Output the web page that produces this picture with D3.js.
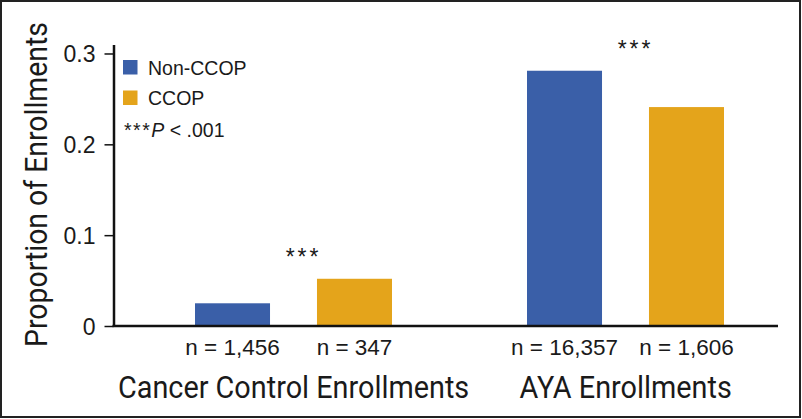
<!DOCTYPE html>
<html>
<head>
<meta charset="utf-8">
<script src="https://cdn.jsdelivr.net/npm/d3@7"></script>
<style>
  html, body { margin: 0; padding: 0; background: #fff; }
  svg { display: block; }
  text { fill: #1a1a1a; }
</style>
</head>
<body>
<svg id="chart" width="802" height="419"></svg>
<script>
// ---- Data ----
const categories = ["Cancer Control Enrollments", "AYA Enrollments"];
const series = ["Non-CCOP", "CCOP"];
const nonCcopValues = [0.025, 0.281];
const ccopValues = [0.052, 0.241];
const nonCcopN = ["n = 1,456", "n = 16,357"];
const ccopN = ["n = 347", "n = 1,606"];
const significance = ["***", "***"];
const yTicks = [0, 0.1, 0.2, 0.3];
const colors = ["#3a5fa8", "#e4a41b"];

const rows = categories.map((c, i) => ({
  category: c,
  values: [
    { key: series[0], value: nonCcopValues[i], n: nonCcopN[i] },
    { key: series[1], value: ccopValues[i], n: ccopN[i] }
  ],
  sig: significance[i]
}));

// ---- Layout ----
const svg = d3.select("#chart");
const W = 802, H = 419;
const axisX = 113.5, baseY = 326, axisEndX = 778;
const sans = "'Liberation Sans', Arial, sans-serif";
const cond = "Roboto, 'Liberation Sans', Arial, sans-serif";
const condScale = 0.93;

// frame
svg.append("rect").attr("x", 1).attr("y", 1).attr("width", W - 3).attr("height", H - 3)
  .attr("fill", "#fff").attr("stroke", "#222").attr("stroke-width", 2);

const y = d3.scaleLinear().domain([0, 0.31]).range([baseY, 44.4]);
const x0 = d3.scaleBand().domain(categories).range([127.6, 791.6]).padding(0);
const x1 = d3.scaleBand().domain(series).range([67.4, 264.4]).paddingInner(0.385).paddingOuter(0);
const color = d3.scaleOrdinal().domain(series).range(colors);

// bars
const groups = svg.append("g").selectAll("g").data(rows).join("g")
  .attr("transform", d => `translate(${x0(d.category)},0)`);

groups.selectAll("rect").data(d => d.values).join("rect")
  .attr("x", d => x1(d.key))
  .attr("y", d => y(d.value))
  .attr("width", x1.bandwidth())
  .attr("height", d => y(0) - y(d.value))
  .attr("fill", d => color(d.key));

// n labels
groups.selectAll("text.n").data(d => d.values).join("text")
  .attr("class", "n")
  .attr("x", d => x1(d.key) + x1.bandwidth() / 2)
  .attr("y", 355)
  .attr("text-anchor", "middle")
  .style("font-family", sans)
  .style("font-size", "22.5px")
  .text(d => d.n);

// significance stars
groups.append("text")
  .attr("x", x0.bandwidth() / 2 + 10)
  .attr("y", d => y(d3.max(d.values, v => v.value)) - 14)
  .attr("text-anchor", "middle")
  .style("font-family", sans)
  .style("font-size", "23px")
  .style("letter-spacing", "3px")
  .text(d => d.sig);

// group labels (slightly condensed to mimic the original condensed face)
groups.append("text")
  .attr("transform", d => `translate(${x0.bandwidth() / 2},398) scale(${condScale},1)`)
  .attr("text-anchor", "middle")
  .style("font-family", cond)
  .style("font-size", "31px")
  .text(d => d.category);

// y axis
const yAxis = d3.axisLeft(y).tickValues(yTicks).tickSize(9).tickSizeOuter(0)
  .tickFormat(d => d === 0 ? "0" : d3.format(".1f")(d));
const gy = svg.append("g").attr("transform", `translate(${axisX},0)`).call(yAxis);
gy.select(".domain").attr("stroke", "#111").attr("stroke-width", 2.5);
gy.selectAll(".tick line").attr("stroke", "#111").attr("stroke-width", 1.5);
gy.selectAll(".tick text").attr("x", -18).attr("dy", "0.35em")
  .style("font-family", sans).style("font-size", "23px").attr("fill", "#1a1a1a");

// x baseline
svg.append("line").attr("x1", axisX - 1).attr("x2", axisEndX)
  .attr("y1", y(0)).attr("y2", y(0))
  .attr("stroke", "#111").attr("stroke-width", 2.5);

// y title
svg.append("text")
  .attr("transform", `translate(47,184.5) rotate(-90) scale(${condScale * 0.985},1)`)
  .attr("text-anchor", "middle")
  .style("font-family", cond)
  .style("font-size", "31px")
  .text("Proportion of Enrollments");

// legend
const legend = svg.append("g").selectAll("g").data(series).join("g")
  .attr("transform", (d, i) => `translate(123,${60 + i * 30.5})`);
legend.append("rect").attr("width", 14.5).attr("height", 14.5).attr("fill", d => color(d));
legend.append("text").attr("x", 25).attr("y", 14.5)
  .style("font-family", sans).style("font-size", "19.5px").text(d => d);

const note = svg.append("text").attr("x", 124).attr("y", 137)
  .style("font-family", sans).style("font-size", "19.5px");
note.append("tspan").style("letter-spacing", "1.5px").text("***");
note.append("tspan").style("font-style", "italic").text("P");
note.append("tspan").text(" < .001");
</script>
</body>
</html>
